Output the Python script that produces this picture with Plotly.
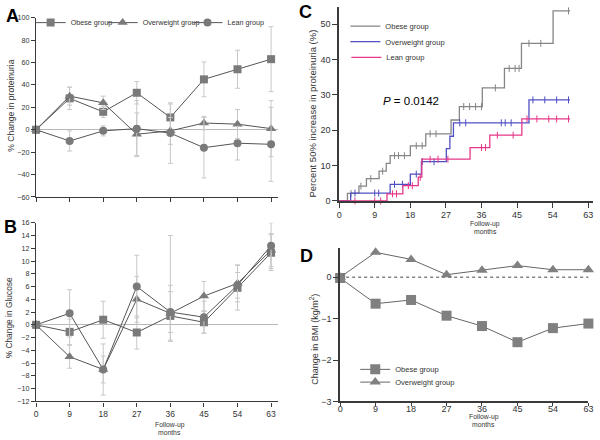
import plotly.graph_objects as go

months = [0, 9, 18, 27, 36, 45, 54, 63]
month_labels = ["0", "9", "18", "27", "36", "45", "54", "63"]

# Panel A: % change in proteinuria
a_obese = [0, 28, 16, 33, 11, 45, 54, 63]
a_obese_err = [0, 10, 5, 10, 12, 15.5, 17, 29]
a_over = [0, 30, 24, -4, -1, 6, 5, 1]
a_over_err = [0, 8, 6, 19, 12, 6, 13, 25]
a_lean = [0, -10, -1, 1, -3, -16, -12, -13]
a_lean_err = [0, 9, 4.5, 25, 27, 27, 15, 33]

# Panel B: % change in glucose
b_obese = [0, -1.1, 0.8, -1.2, 1.4, 0.4, 5.8, 11.3]
b_obese_err_up = [0, 2, 2.9, 2.6, 12.6, 1.7, 3.5, 2.8]
b_obese_err_dn = [0, 2, 2.9, 2.6, 3.8, 1.7, 3.5, 2.8]
b_over = [0, -5, -7, 4, 1.8, 4.5, 6.5, 11.7]
b_over_err = [0, 1.8, 2.1, 3.6, 4.4, 2.3, 2.9, 2.6]
b_lean = [0, 1.8, -7, 6, 2, 1.2, 6.2, 12.4]
b_lean_err = [0, 3.7, 4, 4.9, 3.2, 2.5, 2, 3.6]

# Panel C: cumulative percent with 50% increase in proteinuria (step curves)
c_obese_t = [0, 2.1, 5.0, 6.9, 10.1, 11.9, 12.9, 18.0, 21.9, 28.3, 30.4, 36.2, 41.8, 46.1, 54.1, 58.4]
c_obese_y = [0, 2.1, 4.2, 6.3, 8.4, 10.6, 12.8, 15.6, 19.0, 22.9, 26.7, 32.0, 37.5, 44.6, 53.8, 53.8]
c_over_t = [0, 2.9, 12.9, 18.0, 20.8, 27.1, 28.0, 28.9, 48.0, 58.4]
c_over_y = [0, 2.2, 4.7, 7.6, 11.1, 14.8, 18.3, 22.1, 28.6, 28.6]
c_lean_t = [0, 12.1, 16.1, 20.0, 20.9, 33.1, 38.1, 46.2, 58.4]
c_lean_y = [0, 2.0, 4.3, 6.7, 11.8, 15.1, 18.6, 23.2, 23.2]
# censoring times
c_obese_cens = [3.0, 5.5, 8.0, 11.0, 14.0, 15.0, 16.5, 19.5, 21.0, 23.0, 24.5, 31.5, 33.0, 34.5, 36.0, 39.5, 43.0, 44.5, 45.5, 48.0, 51.0, 58.0]
c_over_cens = [4.0, 9.0, 10.0, 14.0, 16.0, 19.5, 21.0, 24.0, 30.5, 32.0, 41.0, 42.0, 43.5, 49.0, 52.0, 55.0, 58.0]
c_lean_cens = [4.0, 9.0, 10.5, 13.5, 14.5, 17.5, 18.5, 20.5, 23.0, 25.0, 27.5, 36.0, 37.0, 40.0, 44.0, 47.5, 50.0, 53.0, 55.0, 58.0]
c_ticks = [0, 9, 18, 27, 36, 45, 54, 63]
c_yticks = [0, 10, 20, 30, 40, 50]

# Panel D: change in BMI
d_obese = [-0.02, -0.64, -0.55, -0.93, -1.18, -1.57, -1.23, -1.12]
d_over = [0, 0.6, 0.43, 0.06, 0.17, 0.28, 0.18, 0.18]

FONT = "Liberation Sans, Arial, sans-serif"
GRAY_M = "#7a7a7a"
LINE_C = "#555555"
ERR_C = "#c8c8c8"
AX_C = "#3a3a3a"
TXT = "#333333"


def step_at(ts, ys, t):
    v = ys[0]
    for ti, yi in zip(ts, ys):
        if ti <= t:
            v = yi
    return v


def px_x(p):
    return p / 600.0


def px_y(p):
    return 1 - p / 440.0


fig = go.Figure()

sym = {"obese": "square", "over": "triangle-up", "lean": "circle"}
names = {"obese": "Obese group", "over": "Overweight group", "lean": "Lean group"}

# ---- Panel A
a_legends = {"obese": "legend", "over": "legend4", "lean": "legend5"}
for key, vals, err in [("obese", a_obese, a_obese_err), ("over", a_over, a_over_err), ("lean", a_lean, a_lean_err)]:
    fig.add_trace(go.Scatter(
        x=months, y=vals, mode="lines+markers", name=names[key],
        line=dict(color=LINE_C, width=1),
        marker=dict(symbol=sym[key], size=8 if key != "over" else 9, color=GRAY_M),
        error_y=dict(type="data", array=err, color=ERR_C, thickness=1, width=2.5),
        xaxis="x", yaxis="y", legend=a_legends[key], cliponaxis=False,
    ))

# ---- Panel B
b_sets = [("obese", b_obese, b_obese_err_up, b_obese_err_dn),
          ("over", b_over, b_over_err, b_over_err),
          ("lean", b_lean, b_lean_err, b_lean_err)]
for key, vals, eu, ed in b_sets:
    fig.add_trace(go.Scatter(
        x=months, y=vals, mode="lines+markers", name=names[key], showlegend=False,
        line=dict(color=LINE_C, width=1),
        marker=dict(symbol=sym[key], size=8 if key != "over" else 9, color=GRAY_M),
        error_y=dict(type="data", array=eu, arrayminus=ed, color=ERR_C, thickness=1, width=2.5),
        xaxis="x2", yaxis="y2", cliponaxis=False,
    ))

# ---- Panel C
c_legends = {"obese": "legend2", "over": "legend6", "lean": "legend7"}
c_sets = [("obese", c_obese_t, c_obese_y, c_obese_cens, "#858585"),
          ("over", c_over_t, c_over_y, c_over_cens, "#5050c4"),
          ("lean", c_lean_t, c_lean_y, c_lean_cens, "#e8378a")]
for key, ts, ys, cens, col in c_sets:
    fig.add_trace(go.Scatter(
        x=ts, y=ys, mode="lines", line=dict(color=col, width=1.3, shape="hv"),
        name=names[key], xaxis="x3", yaxis="y3", legend=c_legends[key], cliponaxis=False,
    ))
    fig.add_trace(go.Scatter(
        x=cens, y=[step_at(ts, ys, t) for t in cens], mode="markers", showlegend=False,
        marker=dict(symbol="line-ns", size=5, line=dict(color=col, width=1)),
        xaxis="x3", yaxis="y3", cliponaxis=False, hoverinfo="skip",
    ))

# ---- Panel D
d_legends = {"obese": "legend3", "over": "legend8"}
for key, vals in [("obese", d_obese), ("over", d_over)]:
    fig.add_trace(go.Scatter(
        x=months, y=vals, mode="lines+markers", name=names[key],
        line=dict(color="#666666", width=1),
        marker=dict(symbol=sym[key], size=10, color="#808080"),
        xaxis="x4", yaxis="y4", legend=d_legends[key], cliponaxis=False,
    ))


def axis_style(size, ticklen=4, lw=1.2):
    return dict(showline=True, linecolor=AX_C, linewidth=lw, ticks="outside",
                tickcolor=AX_C, ticklen=ticklen, tickwidth=1, showgrid=False,
                tickfont=dict(family=FONT, size=size, color=TXT))


def leg(text_left, text_mid, size):
    return dict(x=px_x(text_left - 41), y=px_y(text_mid), xanchor="left", yanchor="middle",
                font=dict(family=FONT, size=size, color=TXT), bgcolor="rgba(0,0,0,0)",
                borderwidth=0)


fig.update_layout(
    width=600, height=440,
    margin=dict(l=0, r=0, t=0, b=0),
    paper_bgcolor="white", plot_bgcolor="white",
    font=dict(family=FONT, color=TXT),
    # A
    xaxis=dict(domain=[px_x(33.5), px_x(278.5)], range=[0, 64.8], anchor="y",
               tickvals=months, showticklabels=False, zeroline=False, **axis_style(7.2)),
    yaxis=dict(domain=[px_y(197), px_y(14)], range=[-60, 100], anchor="x",
               tickvals=[-60, -40, -20, 0, 20, 40, 60, 80, 100],
               zeroline=True, zerolinecolor="#b8b8b8", zerolinewidth=1, **axis_style(7.2)),
    # B
    xaxis2=dict(domain=[px_x(33.5), px_x(278.5)], range=[0, 64.8], anchor="y2",
                tickvals=months, ticktext=month_labels, zeroline=False, **axis_style(8.5)),
    yaxis2=dict(domain=[px_y(405.7), px_y(223.3)], range=[-12, 16], anchor="x2",
                tickvals=list(range(-12, 17, 2)),
                zeroline=True, zerolinecolor="#b8b8b8", zerolinewidth=1, **axis_style(7.2)),
    # C
    xaxis3=dict(domain=[px_x(340.7), px_x(598)], range=[0, 64.2], anchor="y3",
                tickvals=c_ticks, zeroline=False, **axis_style(9, 5, 1.5)),
    yaxis3=dict(domain=[px_y(201), px_y(2.7)], range=[0, 55], anchor="x3",
                tickvals=c_yticks, zeroline=False, **axis_style(9, 5, 1.5)),
    # D
    xaxis4=dict(domain=[px_x(341.7), px_x(593.3)], range=[0, 63], anchor="y4",
                tickvals=months, ticktext=month_labels, zeroline=False,
                ticklabelstandoff=-5, **axis_style(9, 3, 1.5)),
    yaxis4=dict(domain=[px_y(405.7), px_y(249.3)], range=[-3, 0.7], anchor="x4",
                tickvals=[-3, -2, -1, 0], zeroline=False, **axis_style(9, 5, 1.5)),
    legend=leg(69, 19, 7.2),
    legend4=leg(142, 19, 7.2),
    legend5=leg(228, 19, 7.2),
    legend2=leg(388, 22.5, 7.5),
    legend6=leg(388, 38.5, 7.5),
    legend7=leg(389, 54.5, 7.5),
    legend3=leg(398, 373, 7.5),
    legend8=leg(398, 386, 7.5),
    showlegend=True,
)

# dotted zero reference in D
fig.add_shape(type="line", xref="x4 domain", yref="y4", x0=0, x1=1, y0=0, y1=0,
              line=dict(color="#444444", width=1, dash="dot"), layer="below")

ann = []
# panel letters
for letter, x, y in [("A", 10, 12), ("B", 8, 228), ("C", 307, 8), ("D", 308, 257)]:
    ann.append(dict(text="<b>%s</b>" % letter, x=px_x(x), y=px_y(y), xref="paper", yref="paper",
                    showarrow=False, xanchor="center", yanchor="middle",
                    font=dict(family=FONT, size=18, color="black")))
# y titles
for txt, x, y, s in [("% Change in proteinuria", 8, 104, 8.6),
                     ("% Change in Glucose", 7, 320, 8.4),
                     ("Percent 50% increase in proteinuria (%)", 314, 112, 9.5),
                     ("Change in BMI (kg/m<sup>2</sup>)", 315, 342, 9)]:
    ann.append(dict(text=txt, x=px_x(x), y=px_y(y), xref="paper", yref="paper", textangle=-90,
                    showarrow=False, xanchor="center", yanchor="middle",
                    font=dict(family=FONT, size=s, color=TXT)))
# follow-up months
for x, y1, y2 in [(169, 430, 437), (489, 225, 232), (487, 422, 429)]:
    ann.append(dict(text="Follow-up", x=px_x(x), y=px_y(y1), xref="paper", yref="paper",
                    showarrow=False, xanchor="center", yanchor="middle",
                    font=dict(family=FONT, size=6.8, color=TXT)))
    ann.append(dict(text="months", x=px_x(x), y=px_y(y2), xref="paper", yref="paper",
                    showarrow=False, xanchor="center", yanchor="middle",
                    font=dict(family=FONT, size=6.8, color=TXT)))
# P value
ann.append(dict(text="<i>P</i> = 0.0142", x=px_x(383), y=px_y(99), xref="paper", yref="paper",
                showarrow=False, xanchor="left", yanchor="middle",
                font=dict(family=FONT, size=11.5, color="black")))
fig.update_layout(annotations=ann)

fig.write_html("out.html", config={"displayModeBar": False},
               post_script="document.body.style.margin='0';document.body.style.padding='0';")
